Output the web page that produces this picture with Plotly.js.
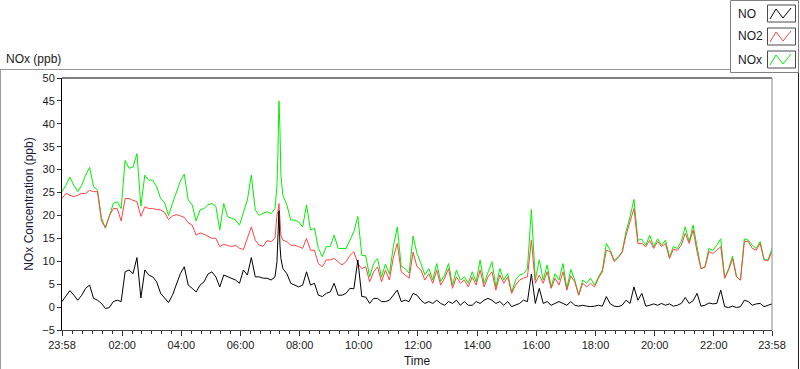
<!DOCTYPE html>
<html><head><meta charset="utf-8">
<script src="https://cdn.plot.ly/plotly-3.0.1.min.js"></script>
<style>html,body{margin:0;padding:0;background:#fff;}#chart{width:800px;height:369px;}</style>
</head><body><div id="chart"></div>
<script>
// minutes after the 23:58 start of the record
const minutes = [
0,8,16,24,32,40,48,56,64,72,80,88,96,104,112,120,
128,136,144,152,160,168,176,184,192,200,208,216,224,232,240,
248,256,264,272,280,288,296,304,312,320,328,336,344,352,360,
368,376,384,392,400,408,416,424,432,
436,438,440,442,444,
448,456,464,472,480,488,496,504,512,520,528,536,544,552,560,568,576,584,592,600,
608,616,624,632,640,648,656,664,672,680,688,696,704,712,720,
728,736,744,752,760,768,776,784,792,800,808,816,824,832,840,
848,856,864,872,880,888,896,904,912,920,928,936,944,952,960,
968,976,984,992,1000,1008,1016,1024,1032,1040,1048,1056,1064,1072,1080,
1088,1096,1104,1112,1120,1128,1136,1144,1152,1160,1168,1176,1184,1192,1200,
1208,1216,1224,1232,1240,1248,1256,1264,1272,1280,1288,1296,1304,1312,1320,
1328,1336,1344,1352,1360,1368,1376,1384,1392,1400,1408,1416,1424,1432,1440];

const noxValues = [
25.2,26.6,28.4,26.6,25.2,26.6,28.8,30.5,26.3,25.5,19.5,17.2,19.8,22.6,23.0,21.5,
32.0,30.3,30.6,33.5,22.0,28.8,27.7,27.7,26.3,23.7,22.8,20.0,22.6,25.2,27.5,
29.0,23.4,22.3,18.8,21.2,21.5,22.3,22.6,22.0,16.8,22.6,19.7,19.4,19.0,17.9,
20.5,23.4,28.8,21.2,20.0,20.5,20.8,20.4,21.5,
26.6,33.9,45.0,39.0,28.8,
24.4,22.3,19.0,19.0,18.6,17.5,22.3,16.8,17.2,12.8,11.0,13.2,13.2,15.7,12.8,12.8,12.8,14.6,16.5,19.8,
11.3,11.2,6.6,9.5,10.6,6.5,9.4,7.2,13.2,17.5,8.9,8.4,7.4,15.5,11.7,
9.5,7.0,8.4,5.9,9.5,5.6,7.0,9.5,4.8,8.1,5.9,6.6,5.2,7.7,5.5,
10.3,5.2,7.7,9.9,4.4,8.4,5.9,7.3,3.3,5.9,7.0,7.3,8.4,21.3,5.9,
10.3,5.9,9.2,4.4,7.3,5.9,9.5,4.1,8.2,5.9,2.6,5.9,5.2,6.3,4.8,
6.6,8.1,13.9,12.4,10.2,11.0,12.1,16.5,19.7,23.5,14.6,14.8,13.5,15.7,13.2,
14.9,13.5,14.6,11.0,13.2,12.8,14.3,17.5,14.3,17.9,12.8,8.4,8.8,12.8,12.4,
13.5,14.9,6.3,8.4,11.1,6.6,5.9,14.9,14.6,13.5,12.8,14.3,10.3,10.3,12.8];

const no2Values = [
23.7,24.8,24.4,24.1,24.4,24.8,24.8,25.5,25.2,25.2,18.8,17.4,19.9,21.5,21.5,18.8,
23.7,23.7,23.3,23.0,19.8,21.9,21.5,21.5,21.3,21.2,20.7,19.1,19.9,20.2,19.9,
19.6,18.4,17.9,15.7,16.2,15.9,15.5,15.0,15.0,13.2,13.7,13.4,13.2,13.5,12.8,
12.6,15.0,17.5,14.6,13.5,13.3,14.5,14.3,15.0,
20.1,20.8,22.6,17.2,15.7,
14.6,14.3,13.5,13.5,13.2,12.8,15.0,12.4,12.4,9.5,8.8,10.3,10.3,10.6,9.9,9.2,9.9,11.3,12.1,9.5,
8.4,8.8,5.5,7.7,8.8,5.5,8.1,5.9,10.8,13.9,7.7,7.0,6.3,12.0,8.8,
8.1,5.9,7.3,5.2,8.1,4.8,6.3,8.4,4.1,6.6,5.2,5.9,4.4,6.6,4.8,
8.1,4.4,6.6,7.7,3.7,7.0,5.2,6.6,3.0,4.8,5.9,6.3,6.6,14.6,5.2,
7.0,5.2,7.7,4.1,6.3,4.8,7.7,3.7,6.8,5.5,2.6,5.2,4.4,5.2,4.4,
6.3,7.7,12.4,12.1,9.9,10.8,11.9,15.7,18.6,21.5,13.9,13.9,13.2,14.6,12.8,
14.3,13.2,13.9,10.6,12.6,12.4,13.5,16.1,13.9,16.8,12.1,8.4,8.7,12.1,11.7,
12.4,13.2,6.3,8.1,10.6,6.6,5.9,14.3,14.3,12.8,12.4,13.9,10.3,10.1,12.1];

const noValues = [
1.2,2.3,3.6,2.6,1.5,2.6,4.1,4.8,1.9,1.5,0.8,-0.3,-0.1,1.2,1.5,1.2,
7.7,8.1,7.3,10.8,2.0,8.1,7.0,6.6,5.5,3.0,2.0,1.0,2.6,5.2,7.3,
8.8,4.8,4.1,3.3,4.8,5.5,7.2,7.7,6.6,4.4,7.0,6.6,6.3,5.9,5.2,
8.1,7.0,10.8,6.6,6.6,6.3,6.3,5.9,6.6,
9.9,15.0,21.0,13.5,10.6,
8.4,7.3,5.2,4.8,4.4,4.8,7.7,4.8,5.2,2.6,2.3,3.0,3.3,5.2,2.6,2.6,3.0,4.1,4.0,10.3,
2.3,2.2,0.8,1.9,1.9,1.2,1.2,1.5,2.6,3.7,1.2,1.5,1.2,3.0,2.6,
1.5,0.8,1.2,0.8,1.5,0.8,0.4,1.2,0.8,1.5,0.4,1.2,0.4,0.4,1.2,
0.8,1.5,1.9,1.5,0.8,1.2,0.4,1.2,0.1,0.4,0.8,1.5,1.2,7.2,0.8,
4.1,0.8,1.2,0.4,0.8,1.2,0.8,0.4,1.2,0.4,0.2,0.4,0.2,0.1,0.2,
0.4,0.2,2.3,0.7,0.2,0.1,0.4,1.5,0.8,4.4,1.5,3.0,0.2,0.4,0.7,
0.4,0.8,0.4,0.7,0.2,0.4,0.8,2.1,0.8,1.4,3.0,0.2,0.4,0.9,0.7,
0.8,3.7,0.1,-0.1,0.2,-0.1,0.1,1.5,1.2,0.4,0.7,0.8,0.1,0.4,0.7];

const seriesNames = ["NO", "NO2", "NOx"];
const seriesColors = ["#000000", "#ff4444", "#00f000"];
const tickLabels = ["23:58","02:00","04:00","06:00","08:00","10:00","12:00","14:00","16:00","18:00","20:00","22:00","23:58"];
const yTickValues = [-5,0,5,10,15,20,25,30,35,40,45,50];

const START = Date.UTC(2024, 0, 1, 23, 58);
function toDate(m) { return new Date(START + m * 60000).toISOString().replace('T', ' ').slice(0, 19); }
const xDates = minutes.map(toDate);
const lastIdx = tickLabels.length - 1;
const tickMinutes = tickLabels.map((l, i) => {
  if (i === 0) return 0;
  if (i === lastIdx) return 1440;
  const [h, m] = l.split(':').map(Number);
  return h * 60 + m + 2;
});

// page layout (pixels)
const W = 800, H = 369, L = 62, R = 772, T = 78, B = 330;
const px = v => (v - L) / (R - L);
const py = v => (B - v) / (B - T);

const font = "Liberation Sans, Arial, sans-serif";
const traces = [
  {name: seriesNames[2], y: noxValues, color: seriesColors[2]},
  {name: seriesNames[1], y: no2Values, color: seriesColors[1]},
  {name: seriesNames[0], y: noValues, color: seriesColors[0]}
].map(s => ({x: xDates, y: s.y, name: s.name, type: 'scatter', mode: 'lines',
  line: {color: s.color, width: 1}, showlegend: false, hoverinfo: 'skip'}));

const shapes = [
  // plot frame: top black, right grey
  {type: 'line', xref: 'paper', yref: 'paper', x0: 0, x1: 1, y0: 1, y1: 1, line: {color: '#000', width: 1}},
  {type: 'line', xref: 'paper', yref: 'paper', x0: 1, x1: 1, y0: 0, y1: 1, line: {color: '#8a8a8a', width: 1}},
  // outer panel
  {type: 'line', xref: 'paper', yref: 'paper', x0: px(0), x1: px(730.5), y0: py(69.5), y1: py(69.5), line: {color: '#9a9a9a', width: 1}},
  {type: 'line', xref: 'paper', yref: 'paper', x0: px(0.5), x1: px(0.5), y0: py(69.5), y1: py(369), line: {color: '#9a9a9a', width: 1}},
  {type: 'line', xref: 'paper', yref: 'paper', x0: px(798.5), x1: px(798.5), y0: py(72), y1: py(369), line: {color: '#222', width: 1}},
  // legend box
  {type: 'rect', xref: 'paper', yref: 'paper', x0: px(730.5), x1: px(798.5), y0: py(0.5), y1: py(72.5), line: {color: '#808080', width: 1}, fillcolor: 'rgba(0,0,0,0)'}
];
const annotations = [
  {text: 'NOx (ppb)', xref: 'paper', yref: 'paper', x: px(4), y: py(59), xanchor: 'left', yanchor: 'middle', showarrow: false, font: {family: font, size: 12, color: '#1a1a1a'}}
];
const legendTops = [5, 28, 51];
for (let i = 0; i < 3; i++) {
  const t0 = legendTops[i];
  shapes.push({type: 'rect', xref: 'paper', yref: 'paper', x0: px(767.5), x1: px(795.5), y0: py(t0), y1: py(t0 + 17), line: {color: '#4a4a4a', width: 1}, fillcolor: '#fff'});
  const pts = [[770, t0 + 14], [776, t0 + 4], [783, t0 + 13], [791, t0 + 3]];
  shapes.push({type: 'path', xref: 'paper', yref: 'paper', path: 'M' + pts.map(p => px(p[0]) + ',' + py(p[1])).join(' L'), line: {color: seriesColors[i], width: 1}});
  annotations.push({text: seriesNames[i], xref: 'paper', yref: 'paper', x: px(736), y: py(t0 + 8.5), xanchor: 'left', yanchor: 'middle', showarrow: false, font: {family: font, size: 12, color: '#1a1a1a'}});
}

const layout = {
  width: W, height: H,
  margin: {l: L, r: W - R, t: T, b: H - B, pad: 0},
  paper_bgcolor: '#fff', plot_bgcolor: '#fff',
  font: {family: font, size: 11, color: '#1a1a1a'},
  showlegend: false,
  xaxis: {
    type: 'date', range: [toDate(0), toDate(1440)],
    tickmode: 'array', tickvals: tickMinutes.map(toDate), ticktext: tickLabels,
    ticks: 'outside', ticklen: 5, tickcolor: '#333', tickfont: {family: font, size: 11, color: '#1a1a1a'},
    minor: {ticks: 'outside', ticklen: 3, tickcolor: '#333', dtick: 20 * 60000, tick0: '2024-01-02 00:00:00', showgrid: false},
    showline: true, linecolor: '#444', linewidth: 1, showgrid: false, zeroline: false,
    title: {text: 'Time', standoff: 6, font: {family: font, size: 12, color: '#1a1a1a'}}
  },
  yaxis: {
    range: [-5, 50], tickmode: 'array', tickvals: yTickValues,
    ticks: 'outside', ticklen: 4, tickcolor: '#333', tickfont: {family: font, size: 11, color: '#1a1a1a'},
    showline: true, linecolor: '#000', linewidth: 1, showgrid: false, zeroline: false,
    title: {text: 'NOx Concentration (ppb)', standoff: 6, font: {family: font, size: 12, color: '#1a1a40'}}
  },
  shapes: shapes,
  annotations: annotations
};

Plotly.newPlot('chart', traces, layout, {staticPlot: true, displayModeBar: false});
</script>
</body></html>
